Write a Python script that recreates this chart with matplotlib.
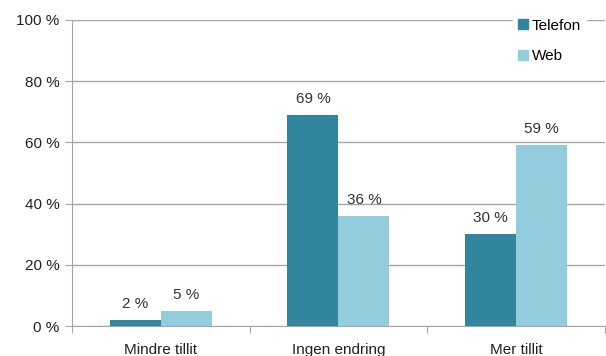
import matplotlib.pyplot as plt
import numpy as np
from matplotlib.patches import Patch

kategorier = ["Mindre tillit", "Ingen endring", "Mer tillit"]
telefon = [2, 69, 30]
web = [5, 36, 59]

farge_telefon = "#31859C"
farge_web = "#93CDDD"
grid_farge = "#A6A6A6"

plt.rcParams["font.family"] = ["Liberation Sans", "DejaVu Sans"]

fig = plt.figure(figsize=(6.06, 3.56), dpi=100)
ax = fig.add_axes([0.119, 0.084, 0.879, 0.86])

x = np.arange(len(kategorier))
b = 0.287
ax.bar(x - b / 2, telefon, b, color=farge_telefon, zorder=3)
ax.bar(x + b / 2, web, b, color=farge_web, zorder=3)

for xi, v in zip(x, telefon):
    ax.text(xi - b / 2, v + 3, f"{v} %", ha="center", va="bottom", fontsize=11, color="#333333")
for xi, v in zip(x, web):
    ax.text(xi + b / 2, v + 3, f"{v} %", ha="center", va="bottom", fontsize=11, color="#333333")

ax.set_xlim(-0.5, 2.5)
ax.set_ylim(0, 100)
ax.set_yticks(range(0, 101, 20))
ax.set_yticklabels([f"{t} %" for t in range(0, 101, 20)], fontsize=11, color="#222222")
ax.yaxis.grid(True, color=grid_farge, linewidth=1)
ax.set_axisbelow(True)

# kategorinavn midt i hver gruppe, tick-streker mellom gruppene
ax.set_xticks([-0.5, 0.5, 1.5, 2.5])
ax.set_xticklabels([])
ax.set_xticks(x, minor=True)
ax.set_xticklabels(kategorier, minor=True, fontsize=11, color="#222222")
ax.tick_params(axis="x", which="minor", length=0, pad=12)
ax.tick_params(axis="x", which="major", length=5, color=grid_farge)
ax.tick_params(axis="y", length=5, color=grid_farge, pad=4)

for s in ["top", "right"]:
    ax.spines[s].set_visible(False)
for s in ["left", "bottom"]:
    ax.spines[s].set_color(grid_farge)

handles = [Patch(color=farge_telefon, label="Telefon"), Patch(color=farge_web, label="Web")]
leg = fig.legend(handles=handles, loc="upper left", bbox_to_anchor=(513 / 606, 1 - 14 / 356),
                 frameon=True, fontsize=11, handlelength=0.65, handleheight=0.65,
                 handletextpad=0.3, labelspacing=1.1, borderpad=0.3, borderaxespad=0)
leg.get_frame().set_edgecolor("white")
leg.get_frame().set_facecolor("white")
leg.get_frame().set_alpha(1)
leg.get_frame().set_boxstyle("square", pad=0)

fig.savefig("out.png", dpi=100)
